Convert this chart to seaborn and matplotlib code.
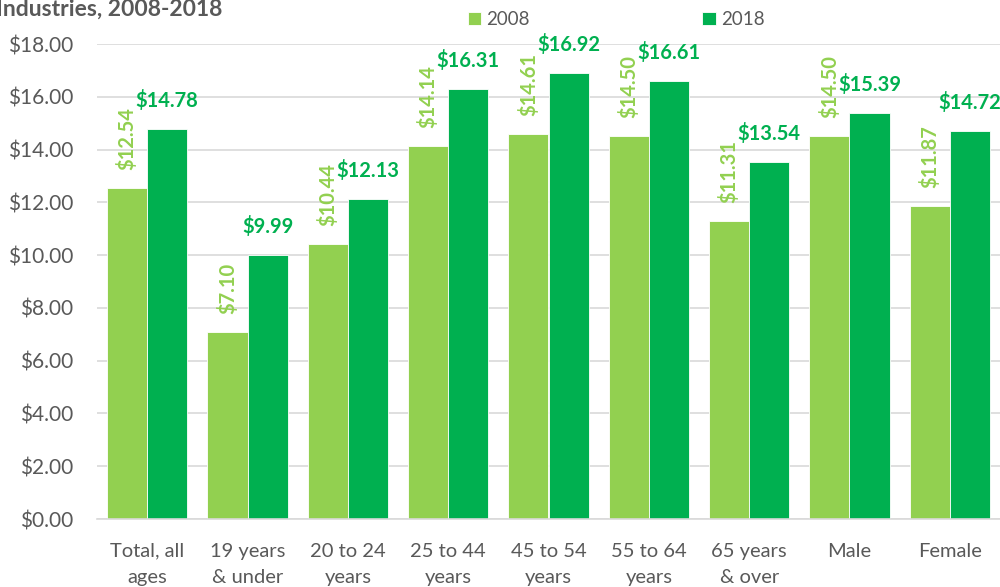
import pandas as pd
import matplotlib.pyplot as plt
import seaborn as sns

# Veriler
categories = ['Total, all\nages', '19 years\n& under', '20 to 24\nyears', '25 to 44\nyears',
              '45 to 54\nyears', '55 to 64\nyears', '65 years\n& over', 'Male', 'Female']
wage_2008 = [12.54, 7.10, 10.44, 14.14, 14.61, 14.50, 11.31, 14.50, 11.87]
wage_2018 = [14.78, 9.99, 12.13, 16.31, 16.92, 16.61, 13.54, 15.39, 14.72]
years = ['2008', '2018']
colors = ['#92D050', '#00B050']

df = pd.DataFrame({
    'category': categories * 2,
    'year': [years[0]] * len(categories) + [years[1]] * len(categories),
    'wage': wage_2008 + wage_2018,
})

sns.set_theme(style='white')
plt.rcParams['font.family'] = ['Lato', 'DejaVu Sans']
gray = '#595959'

fig = plt.figure(figsize=(10, 5.87), dpi=100)
ax = fig.add_axes([0.097, 0.1158, 0.903, 0.809])

sns.barplot(data=df, x='category', y='wage', hue='year', palette=colors,
            saturation=1, width=0.8, edgecolor='white', linewidth=0.6, ax=ax)

ax.set_xlim(-0.5, 8.5)
ax.set_ylim(0, 18)
ax.set_yticks(range(0, 19, 2))
ax.set_yticklabels([f'${v:.2f}' for v in range(0, 19, 2)])
ax.set_xlabel('')
ax.set_ylabel('')
ax.grid(axis='y', color='#D9D9D9', linewidth=1.2)
ax.set_axisbelow(True)
for side in ['left', 'right', 'top']:
    ax.spines[side].set_visible(False)
ax.spines['bottom'].set_color('#D9D9D9')
ax.spines['bottom'].set_linewidth(1.2)
ax.tick_params(axis='y', length=0, pad=17, labelsize=15, labelcolor=gray)
ax.tick_params(axis='x', length=0, pad=17, labelsize=14.5, labelcolor=gray)
for lbl in ax.get_xticklabels():
    lbl.set_linespacing(1.65)

# Değer etiketleri
c08, c18 = ax.containers[0], ax.containers[1]
ax.bar_label(c08, labels=[f'${v:.2f}' for v in wage_2008], padding=13, rotation=90,
             color=colors[0], fontsize=14.5, fontweight='bold')
ax.bar_label(c18, labels=[f'${v:.2f}' for v in wage_2018], padding=13,
             color=colors[1], fontsize=14.5, fontweight='bold')

sns.move_legend(ax, 'center', bbox_to_anchor=(0.575, 1.051), ncol=2, frameon=False,
                title=None, fontsize=13.5, columnspacing=9.2, handlelength=0.7,
                handleheight=0.7, handletextpad=0.3)
for t in ax.get_legend().get_texts():
    t.set_color(gray)

fig.text(-0.004, 1.003, 'Industries, 2008-2018', ha='left', va='top',
         fontsize=16.5, fontweight='bold', color=gray)

fig.savefig('out.png', dpi=100)
